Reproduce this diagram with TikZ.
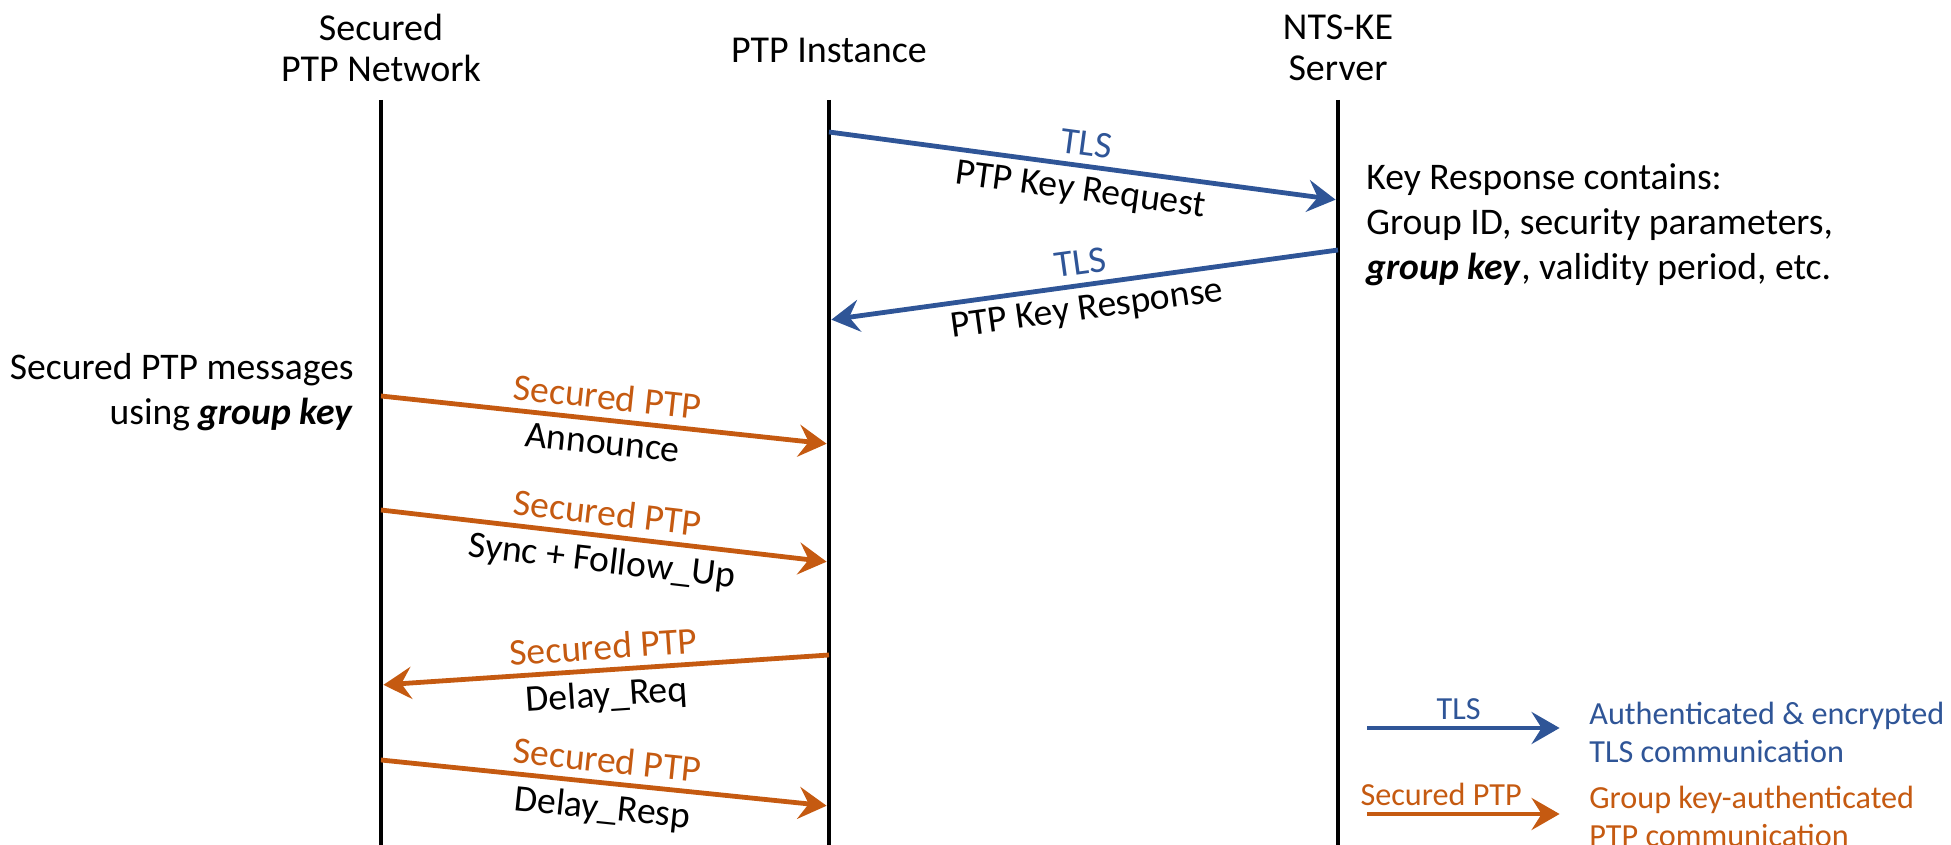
\documentclass[tikz,border=0pt]{standalone}
\usepackage{fontspec}
\setmainfont{Carlito}
\usetikzlibrary{arrows.meta}
\definecolor{tlsblue}{HTML}{2F5597}
\definecolor{ptporange}{HTML}{C55A11}

\begin{document}
\begin{tikzpicture}[
	x=0.5pt, y=-0.5pt,
	every node/.style={font=\fontsize{18.8}{22.5}\selectfont, inner sep=2pt},
	header/.style={align=center, font=\fontsize{19}{20.5}\selectfont},
	legendtext/.style={font=\fontsize{16.1}{19}\selectfont},
	lifeline/.style={line width=2.4pt},
	msg/.style={line width=2.4pt, shorten >=1.2pt, -{Stealth[length=14pt,width=16pt,inset=5pt]}},
	tlsmsg/.style={msg, draw=tlsblue},
	ptpmsg/.style={msg, draw=ptporange},
	upper/.style={midway, sloped, above, inner sep=4pt},
	lower/.style={midway, sloped, below, inner sep=4pt}
	]
	\useasboundingbox (0,0) rectangle (1951,845);

	\node[header] (net) at (381,48) {Secured\\PTP Network};
	\node[header] (inst) at (829,50) {PTP Instance};
	\node[header] (srv) at (1338,48) {NTS-KE\\Server};

	\coordinate (net top) at (381,100);
	\coordinate (net bot) at (381,845);
	\coordinate (inst top) at (829,100);
	\coordinate (inst bot) at (829,845);
	\coordinate (srv top) at (1338,100);
	\coordinate (srv bot) at (1338,845);
	\draw[lifeline] (net top) -- (net bot);
	\draw[lifeline] (inst top) -- (inst bot);
	\draw[lifeline] (srv top) -- (srv bot);

	\coordinate (req from) at (829,132);
	\coordinate (req to) at (1338,200);
	\coordinate (resp from) at (1338,250);
	\coordinate (resp to) at (829,320);
	\draw[tlsmsg] (req from) -- (req to)
		node[upper, text=tlsblue] {TLS}
		node[lower] {PTP Key Request};
	\draw[tlsmsg] (resp from) -- (resp to)
		node[upper, text=tlsblue] {TLS}
		node[lower] {PTP Key Response};

	\coordinate (ann from) at (381,396);
	\coordinate (ann to) at (829,444);
	\coordinate (sync from) at (381,510);
	\coordinate (sync to) at (829,562);
	\coordinate (dreq from) at (829,655);
	\coordinate (dreq to) at (381,685);
	\coordinate (dresp from) at (381,760);
	\coordinate (dresp to) at (829,806);
	\draw[ptpmsg] (ann from) -- (ann to)
		node[upper, text=ptporange] {Secured PTP}
		node[lower] {Announce};
	\draw[ptpmsg] (sync from) -- (sync to)
		node[upper, text=ptporange] {Secured PTP}
		node[lower] {Sync + Follow\_Up};
	\draw[ptpmsg] (dreq from) -- (dreq to)
		node[upper, text=ptporange] {Secured PTP}
		node[lower] {Delay\_Req};
	\draw[ptpmsg] (dresp from) -- (dresp to)
		node[upper, text=ptporange] {Secured PTP}
		node[lower] {Delay\_Resp};

	\node[anchor=east, align=right] (usage) at (358,392) {Secured PTP messages\\using \textbf{\textit{group key}}};
	\node[anchor=west, align=left] (contents) at (1362,225) {Key Response contains:\\Group ID, security parameters,\\\textbf{\textit{group key}}, validity period, etc.};

	\coordinate (tls from) at (1367,728);
	\coordinate (tls to) at (1562,728);
	\coordinate (sptp from) at (1367,814);
	\coordinate (sptp to) at (1562,814);
	\draw[tlsmsg] (tls from) -- (tls to)
		node[upper, pos=0.47, inner sep=3pt, legendtext, text=tlsblue] {TLS};
	\draw[ptpmsg] (sptp from) -- (sptp to)
		node[upper, pos=0.38, inner sep=3pt, legendtext, text=ptporange] {Secured PTP};
	\node[anchor=west, align=left, legendtext, text=tlsblue] (tls key) at (1585,732) {Authenticated \& encrypted\\TLS communication};
	\node[anchor=west, align=left, legendtext, text=ptporange] (sptp key) at (1585,816) {Group key-authenticated\\PTP communication};
\end{tikzpicture}
\end{document}
